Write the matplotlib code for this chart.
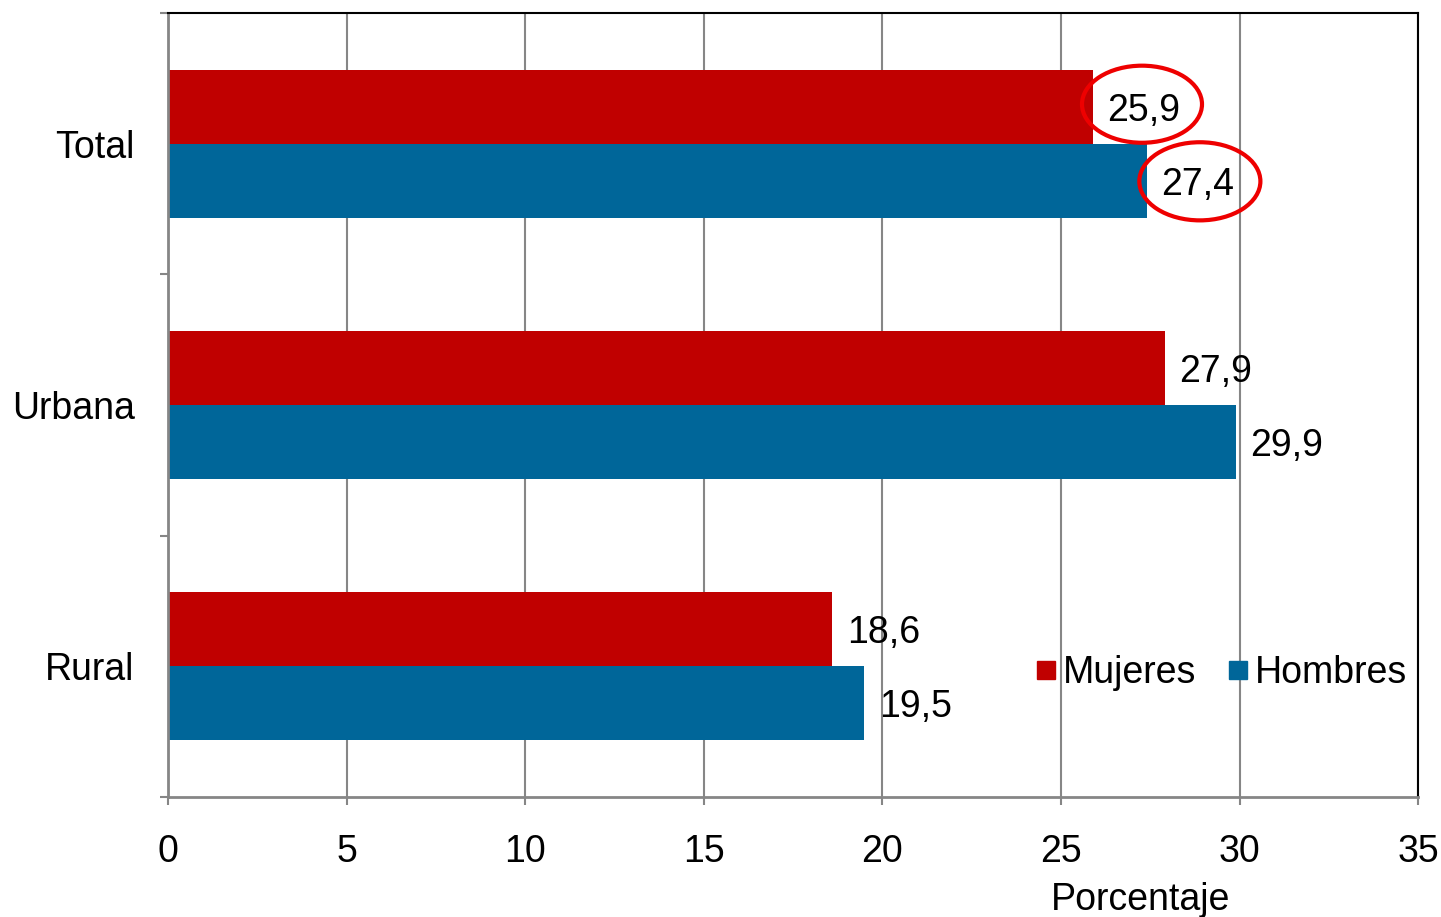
import numpy as np
import matplotlib.pyplot as plt
from matplotlib.patches import Ellipse
from matplotlib.lines import Line2D

plt.rcParams['font.family'] = ['Liberation Sans', 'DejaVu Sans']

categorias = ['Total', 'Urbana', 'Rural']
mujeres = [25.9, 27.9, 18.6]
hombres = [27.4, 29.9, 19.5]
etiquetas_x = [0, 5, 10, 15, 20, 25, 30, 35]

rojo = '#C00000'
azul = '#006699'
gris = '#868686'
fs = 27

fig = plt.figure(figsize=(14.41, 9.17), dpi=100)
ax = fig.add_axes([0.1166, 0.1309, 0.8675, 0.8549])

y = np.arange(len(categorias))
h = 0.2835
ax.barh(y - h / 2, mujeres, height=h, color=rojo, zorder=2)
ax.barh(y + h / 2, hombres, height=h, color=azul, zorder=2)

# etiquetas de valores
for i in range(len(categorias)):
    ax.text(mujeres[i] + 0.4, y[i] - h / 2, f"{mujeres[i]:.1f}".replace('.', ','),
            va='center_baseline', ha='left', fontsize=fs, zorder=3)
    ax.text(hombres[i] + 0.4, y[i] + h / 2, f"{hombres[i]:.1f}".replace('.', ','),
            va='center_baseline', ha='left', fontsize=fs, zorder=3)

# círculos rojos sobre el total
ax.add_patch(Ellipse((mujeres[0] + 1.37, y[0] - 0.151), 3.36, 0.295,
                     fill=False, edgecolor='#EE0000', lw=3, zorder=4))
ax.add_patch(Ellipse((hombres[0] + 1.49, y[0] + 0.144), 3.39, 0.299,
                     fill=False, edgecolor='#EE0000', lw=3, zorder=4))

ax.set_xlim(0, 35)
ax.set_ylim(len(categorias) - 0.5, -0.5)
ax.set_xticks(etiquetas_x)
ax.set_yticks(y)
ax.set_yticklabels(categorias)
ax.set_yticks(np.arange(len(categorias) + 1) - 0.5, minor=True)

ax.tick_params(axis='y', which='major', length=0, pad=24, labelsize=fs)
ax.tick_params(axis='y', which='minor', length=6, width=1.5, color=gris)
ax.tick_params(axis='x', which='major', length=6, width=1.5, color=gris, pad=21, labelsize=fs)

ax.grid(axis='x', color=gris, lw=1.5, zorder=0)
ax.set_axisbelow(True)

for s in ['left', 'bottom']:
    ax.spines[s].set_color(gris)
    ax.spines[s].set_linewidth(2)
for s in ['top', 'right']:
    ax.spines[s].set_color('black')
    ax.spines[s].set_linewidth(1.5)

ax.set_xlabel('Porcentaje', fontsize=fs)
ax.xaxis.set_label_coords(0.778, -0.108)

handles = [Line2D([], [], marker='s', ls='none', color=rojo, markersize=13),
           Line2D([], [], marker='s', ls='none', color=azul, markersize=13)]
ax.legend(handles, ['Mujeres', 'Hombres'], ncol=2, frameon=False, fontsize=fs,
          loc='center right', bbox_to_anchor=(1.0, 0.158), handlelength=0.6,
          handletextpad=0.15, columnspacing=0.8, borderaxespad=0, borderpad=0.3)

fig.savefig('out.png', dpi=100)
